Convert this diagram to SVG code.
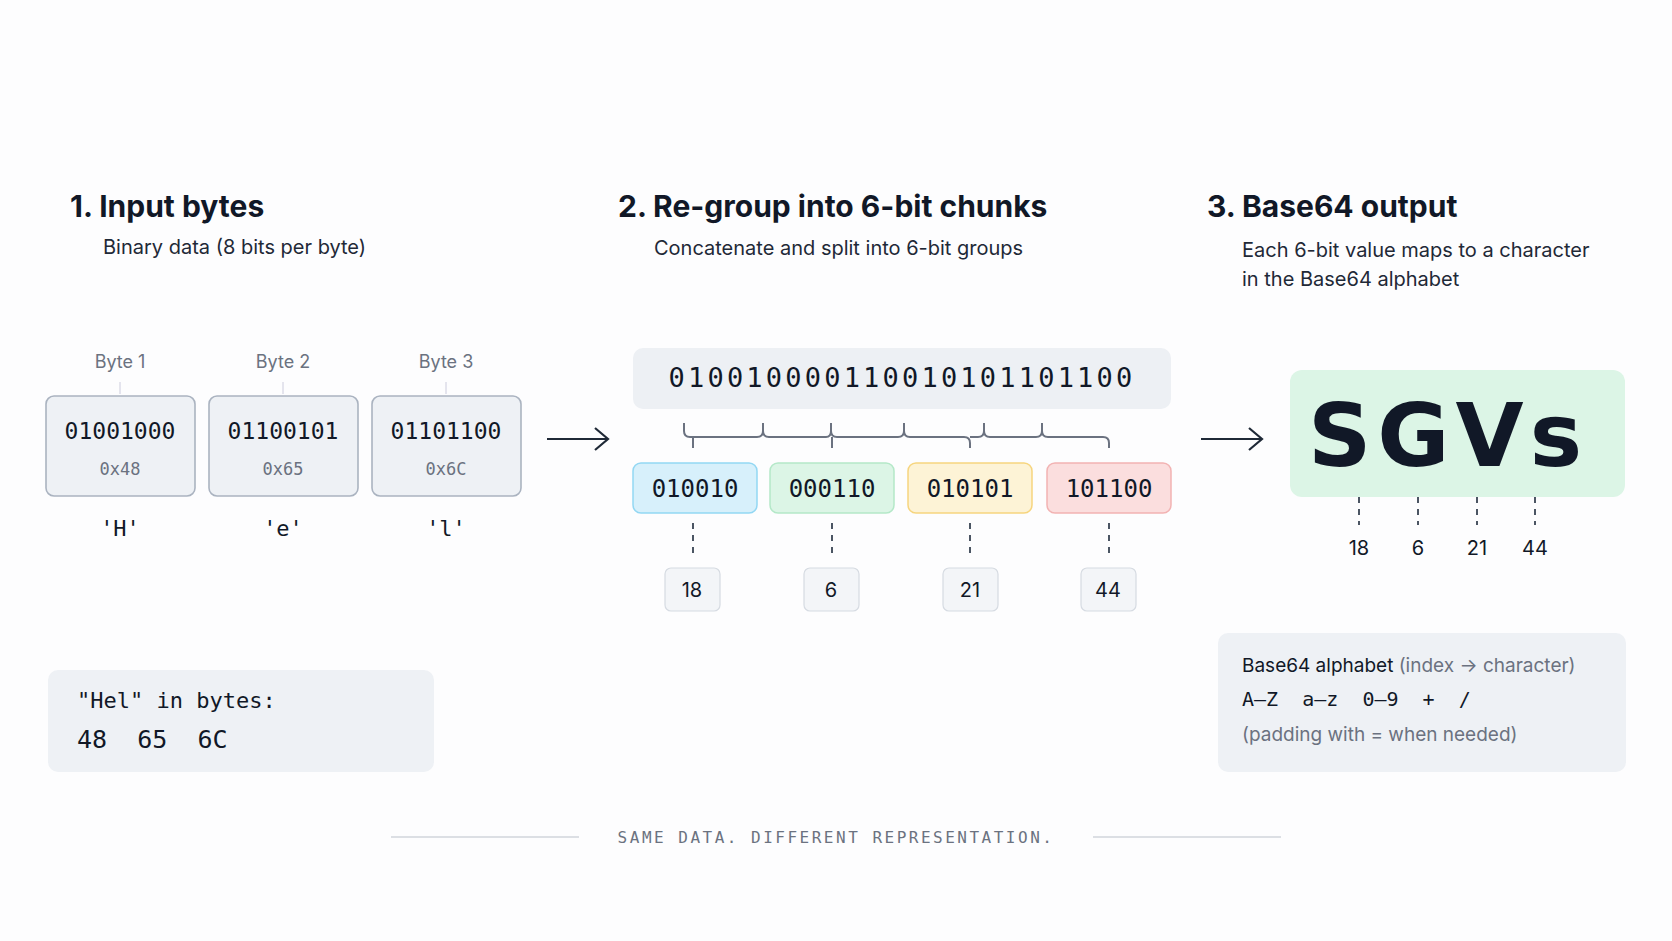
<svg xmlns="http://www.w3.org/2000/svg" width="1672" height="941" viewBox="0 0 1672 941">
<style>
.t{font-family:"Inter","Noto Sans",sans-serif;fill:#111827}
.h{font-size:30px;font-weight:700}
.s{font-size:20px;fill:#1f2937}
.m{font-family:"DejaVu Sans Mono","Liberation Mono",monospace;fill:#111827}
.g{fill:#6b7280}
.box{fill:#eef1f5;stroke:#aab3c0;stroke-width:1.6}
.nb{fill:#f3f5f8;stroke:#d6dbe2;stroke-width:1.2}
.d{stroke:#4b5563;stroke-width:2;stroke-dasharray:6,6;fill:none}
.a{stroke:#1f2937;stroke-width:2.2;fill:none}
</style>
<rect width="1672" height="941" fill="#fdfdfe"/>
<g id="titles">
<text class="t h" x="70" y="217">1. Input bytes</text>
<text class="t s" x="103" y="254">Binary data (8 bits per byte)</text>
<text class="t h" x="618" y="217">2. Re-group into 6-bit chunks</text>
<text class="t s" x="654" y="255">Concatenate and split into 6-bit groups</text>
<text class="t h" x="1207" y="217">3. Base64 output</text>
<text class="t s" x="1242" y="257">Each 6-bit value maps to a character</text>
<text class="t s" x="1242" y="286">in the Base64 alphabet</text>
</g>
<g id="bytes">
<g id="byte1"><text class="t g" x="120" y="368" font-size="18" text-anchor="middle">Byte 1</text><line x1="120" y1="382" x2="120" y2="394" stroke="#ccd" /><rect class="box" x="46" y="396" width="149" height="100" rx="8"/><text class="m" x="120" y="439" font-size="23" text-anchor="middle">01001000</text><text class="m g" x="120" y="475" font-size="17" text-anchor="middle">0x48</text><text class="m" x="120" y="536" font-size="22" text-anchor="middle">'H'</text></g>
<g id="byte2"><text class="t g" x="283" y="368" font-size="18" text-anchor="middle">Byte 2</text><line x1="283" y1="382" x2="283" y2="394" stroke="#ccd" /><rect class="box" x="209" y="396" width="149" height="100" rx="8"/><text class="m" x="283" y="439" font-size="23" text-anchor="middle">01100101</text><text class="m g" x="283" y="475" font-size="17" text-anchor="middle">0x65</text><text class="m" x="283" y="536" font-size="22" text-anchor="middle">'e'</text></g>
<g id="byte3"><text class="t g" x="446" y="368" font-size="18" text-anchor="middle">Byte 3</text><line x1="446" y1="382" x2="446" y2="394" stroke="#ccd" /><rect class="box" x="372" y="396" width="149" height="100" rx="8"/><text class="m" x="446" y="439" font-size="23" text-anchor="middle">01101100</text><text class="m g" x="446" y="475" font-size="17" text-anchor="middle">0x6C</text><text class="m" x="446" y="536" font-size="22" text-anchor="middle">'l'</text></g>
</g>
<g id="bitstring"><rect x="633" y="348" width="538" height="61" rx="10" fill="#edf0f4"/><text class="m" x="902" y="387" font-size="27" letter-spacing="3.2" text-anchor="middle">010010000110010101101100</text></g>
<g id="chunks">
<g id="c1"><rect x="633" y="463" width="124" height="50" rx="8" fill="#d7f0fb" stroke="#93d7f3" stroke-width="1.5"/><text class="m" x="695" y="497" font-size="24" text-anchor="middle">010010</text></g>
<g id="c2"><rect x="770" y="463" width="124" height="50" rx="8" fill="#dcf5e6" stroke="#b4e8c8" stroke-width="1.5"/><text class="m" x="832" y="497" font-size="24" text-anchor="middle">000110</text></g>
<g id="c3"><rect x="908" y="463" width="124" height="50" rx="8" fill="#fdf3d6" stroke="#f6d57f" stroke-width="1.5"/><text class="m" x="970" y="497" font-size="24" text-anchor="middle">010101</text></g>
<g id="c4"><rect x="1047" y="463" width="124" height="50" rx="8" fill="#fbdede" stroke="#f2b3b3" stroke-width="1.5"/><text class="m" x="1109" y="497" font-size="24" text-anchor="middle">101100</text></g>
</g>
<g id="values">
<g id="v1"><rect class="nb" x="665" y="568" width="55" height="43" rx="6"/><text class="t" x="692" y="597" font-size="20" text-anchor="middle">18</text></g>
<g id="v2"><rect class="nb" x="804" y="568" width="55" height="43" rx="6"/><text class="t" x="831" y="597" font-size="20" text-anchor="middle">6</text></g>
<g id="v3"><rect class="nb" x="943" y="568" width="55" height="43" rx="6"/><text class="t" x="970" y="597" font-size="20" text-anchor="middle">21</text></g>
<g id="v4"><rect class="nb" x="1081" y="568" width="55" height="43" rx="6"/><text class="t" x="1108" y="597" font-size="20" text-anchor="middle">44</text></g>
</g>
<g id="output"><rect x="1290" y="370" width="335" height="127" rx="12" fill="#dcf5e6"/><text x="1448" y="466" font-family="DejaVu Sans,sans-serif" font-weight="700" font-size="88" letter-spacing="6" fill="#111827" text-anchor="middle">SGVs</text>
<g font-family="Inter,sans-serif" font-size="20" fill="#111827" text-anchor="middle"><text x="1359" y="555">18</text><text x="1418" y="555">6</text><text x="1477" y="555">21</text><text x="1535" y="555">44</text></g></g>
<g id="hel"><rect x="48" y="670" width="386" height="102" rx="10" fill="#eef1f5"/><text class="m" x="77" y="708" font-size="22">"Hel" in bytes:</text><text class="m" x="77" y="748" font-size="25" xml:space="preserve">48  65  6C</text></g>
<g id="alphabet"><rect x="1218" y="633" width="408" height="139" rx="10" fill="#eef1f5"/><text class="t" x="1242" y="672" font-size="19">Base64 alphabet <tspan fill="#6b7280">(index → character)</tspan></text><text class="m" x="1242" y="706" font-size="20" xml:space="preserve">A–Z  a–z  0–9  +  /</text><text class="t g" x="1242" y="741" font-size="19">(padding with = when needed)</text></g>
<g id="connectors">
<path class="a" d="M547 439H607M595 428L608 439L595 450"/>
<path class="a" d="M1201 439H1261M1249 428L1262 439L1249 450"/>
<path d="M684 423V431Q684 437 690 437H757Q763 437 763 431V423M763 431Q763 437 769 437H826Q831 437 831 431V423M831 431Q831 437 837 437H898Q904 437 904 431V423M904 431Q904 437 910 437H964Q970 437 970 443V448M970 437H978Q984 437 984 431V423M984 431Q984 437 990 437H1036Q1042 437 1042 431V423M1042 431Q1042 437 1048 437H1103Q1109 437 1109 443V448M693 437V448M832 437V448" stroke="#6b7280" stroke-width="2" fill="none"/>
<path class="d" d="M693 523V556M832 523V556M970 523V556M1109 523V556"/>
<path class="d" d="M1359 497V525M1418 497V525M1477 497V525M1535 497V525"/>
</g>
<g id="footer"><line x1="391" y1="837" x2="579" y2="837" stroke="#d1d5db" stroke-width="1.5"/><line x1="1093" y1="837" x2="1281" y2="837" stroke="#d1d5db" stroke-width="1.5"/><text x="836" y="843" font-family="DejaVu Sans Mono,monospace" font-size="16" letter-spacing="2.5" fill="#6b7280" text-anchor="middle">SAME DATA. DIFFERENT REPRESENTATION.</text></g>
</svg>
